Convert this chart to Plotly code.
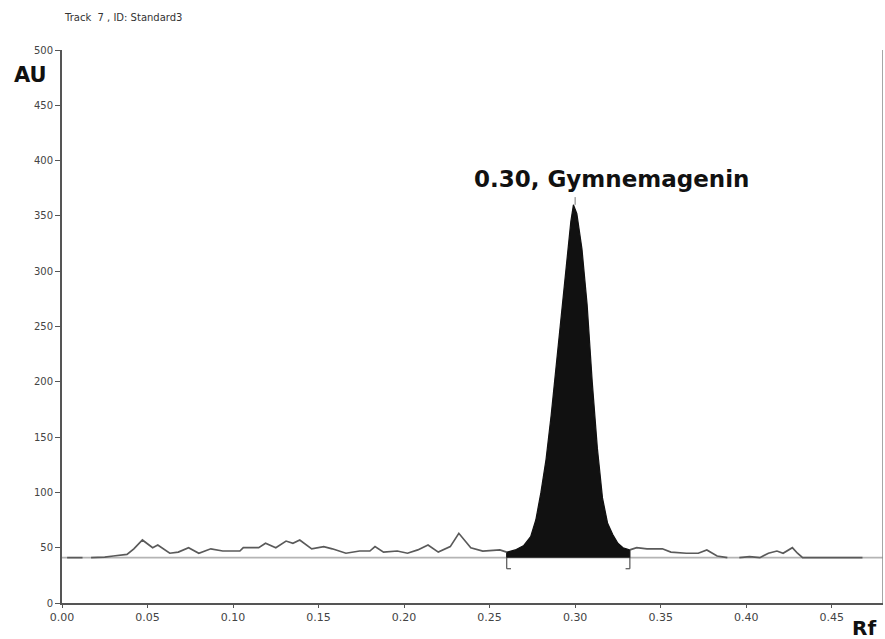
import plotly.graph_objects as go

# ---- data ----
baseline_au = 41

# background trace before the peak (None = gap in the recorded trace)
pre_rf = [0.003, 0.012, None, 0.017, 0.025, 0.030, 0.036, 0.038, 0.042, 0.047, 0.053, 0.056,
          0.063, 0.068, 0.074, 0.080, 0.087, 0.094, 0.104, 0.106, 0.115, 0.119, 0.125,
          0.131, 0.135, 0.139, 0.146, 0.153, 0.158, 0.166, 0.174, 0.180, 0.183, 0.188,
          0.196, 0.202, 0.208, 0.214, 0.220, 0.227, 0.232, 0.239, 0.246, 0.256, 0.260]
pre_au = [41, 41, None, 41, 41.5, 42.5, 43.5, 44, 49, 57, 50, 52.5,
          45, 46, 50, 45, 49, 47, 47, 50, 50, 54, 50,
          56, 54, 57, 49, 51, 49, 45, 47, 47, 51, 46,
          47, 45, 48, 52.5, 46, 51, 63, 50, 47, 48, 46]

# integrated peak (Gymnemagenin)
peak_rf = [0.260, 0.265, 0.270, 0.274, 0.277, 0.280, 0.283, 0.286, 0.289, 0.292, 0.295,
           0.2975, 0.299, 0.301, 0.304, 0.307, 0.310, 0.313, 0.316, 0.319, 0.322, 0.325,
           0.328, 0.332]
peak_au = [46, 48, 52, 60, 75, 100, 130, 170, 215, 265, 310,
           345, 360, 352, 320, 270, 200, 140, 95, 72, 62, 54,
           50, 48]

# background trace after the peak
post_rf = [0.332, 0.336, 0.342, 0.351, 0.356, 0.365, 0.372, 0.377, 0.383, 0.389, None,
           0.396, 0.402, 0.408, 0.413, 0.418, 0.4216, 0.427, 0.430, 0.433, 0.468]
post_au = [48, 50, 49, 49, 46, 45, 45, 48, 42.5, 41, None,
           41, 42, 41, 45, 47, 45, 50, 45, 41, 41]

x_ticks = [0.00, 0.05, 0.10, 0.15, 0.20, 0.25, 0.30, 0.35, 0.40, 0.45]
x_tick_labels = ["0.00", "0.05", "0.10", "0.15", "0.20", "0.25", "0.30", "0.35", "0.40", "0.45"]
y_ticks = [0, 50, 100, 150, 200, 250, 300, 350, 400, 450, 500]

peak_label = "0.30, Gymnemagenin"
title_text = "Track  7 , ID: Standard3"

X_MAX = 0.48
Y_MAX = 500

fig = go.Figure()

# baseline
fig.add_trace(go.Scatter(x=[0, X_MAX], y=[baseline_au, baseline_au], mode="lines",
                         line=dict(color="#b4b4b4", width=1.6), hoverinfo="skip"))

# filled peak area
fig.add_trace(go.Scatter(x=[peak_rf[0]] + peak_rf + [peak_rf[-1]],
                         y=[baseline_au] + peak_au + [baseline_au],
                         mode="lines", fill="toself", fillcolor="#111111",
                         line=dict(color="#111111", width=1.2), hoverinfo="skip"))

# background trace
fig.add_trace(go.Scatter(x=pre_rf, y=pre_au, mode="lines", connectgaps=False,
                         line=dict(color="#5a5a5a", width=1.7), hoverinfo="skip"))
fig.add_trace(go.Scatter(x=post_rf, y=post_au, mode="lines", connectgaps=False,
                         line=dict(color="#5a5a5a", width=1.7), hoverinfo="skip"))

shapes = []
# integration bracket marks
foot = 0.0025
for xr, d in ((peak_rf[0], foot), (peak_rf[-1], -foot)):
    shapes.append(dict(type="line", xref="x", yref="y", x0=xr, x1=xr,
                       y0=baseline_au, y1=baseline_au - 10,
                       line=dict(color="#555", width=1.2)))
    shapes.append(dict(type="line", xref="x", yref="y", x0=xr, x1=xr + d,
                       y0=baseline_au - 10, y1=baseline_au - 10,
                       line=dict(color="#555", width=1.2)))
# apex marker
shapes.append(dict(type="line", xref="x", yref="y", x0=0.30, x1=0.30,
                   y0=max(peak_au), y1=max(peak_au) + 7,
                   line=dict(color="#777", width=1)))
# right frame line
shapes.append(dict(type="line", xref="x", yref="y", x0=X_MAX, x1=X_MAX, y0=0, y1=Y_MAX,
                   line=dict(color="#888", width=1.5)))

annotations = [
    dict(text="<b>" + peak_label + "</b>", x=0.30, y=383, xref="x", yref="y",
         xanchor="center", yanchor="middle", xshift=36, showarrow=False,
         font=dict(family="DejaVu Sans", size=23, color="#111")),
    dict(text="<b>AU</b>", x=-0.038, y=0.955, xref="paper", yref="paper",
         xanchor="center", yanchor="middle", showarrow=False,
         font=dict(family="DejaVu Sans", size=21, color="#111")),
    dict(text="<b>Rf</b>", x=0.977, y=-0.045, xref="paper", yref="paper",
         xanchor="center", yanchor="middle", showarrow=False,
         font=dict(family="DejaVu Sans", size=20, color="#111")),
    dict(text=title_text, x=0.0, y=1.058, xref="paper", yref="paper",
         xanchor="left", yanchor="middle", showarrow=False,
         font=dict(family="DejaVu Sans", size=10, color="#333")),
]

fig.update_layout(
    width=885, height=639,
    margin=dict(l=62, r=2, t=50, b=36),
    paper_bgcolor="white", plot_bgcolor="white",
    showlegend=False,
    shapes=shapes, annotations=annotations,
    xaxis=dict(range=[0, X_MAX], tickvals=x_ticks, ticktext=x_tick_labels,
               showgrid=False, zeroline=False, showline=True, linecolor="#555",
               linewidth=2, ticks="outside", ticklen=3, tickcolor="#555",
               tickfont=dict(family="DejaVu Sans", size=11, color="#444")),
    yaxis=dict(range=[0, Y_MAX], tickvals=y_ticks,
               showgrid=False, zeroline=False, showline=True, linecolor="#555",
               linewidth=2, ticks="outside", ticklen=5, tickcolor="#555",
               tickfont=dict(family="DejaVu Sans", size=10, color="#444")),
)

fig.write_html("out.html")
